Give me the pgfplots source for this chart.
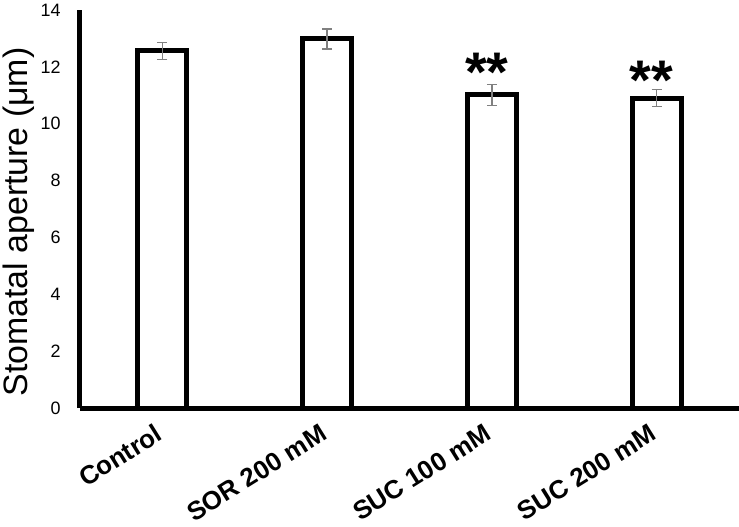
\documentclass[border=0pt]{standalone}
\usepackage{pgfplots}
\pgfplotsset{compat=1.18}
\usepackage{fontspec}
\setmainfont{Liberation Sans}
\begin{document}
\begin{tikzpicture}
\begin{axis}[
  at={(0,0)}, anchor=south west,
  scale only axis,
  width=659bp, height=398bp,
  xmin=-0.5, xmax=3.5,
  ymin=0, ymax=14,
  axis x line=bottom, axis y line=left,
  axis line style={line width=5bp, -},
  xtick={0,1,2,3},
  xticklabels={Control, SOR 200 mM, SUC 100 mM, SUC 200 mM},
  ytick={0,2,...,14},
  major tick length=0pt,
  /pgf/number format/assume math mode=true,
  yticklabel style={font=\fontsize{18}{20}\selectfont, xshift=-16bp},
  xticklabel style={font=\fontsize{26}{28}\selectfont\bfseries, rotate=32, anchor=north east, xshift=-11.5bp, yshift=-5bp},
  ylabel={Stomatal aperture (μm)},
  ylabel style={font=\fontsize{34}{36}\selectfont, yshift=-1bp, xshift=-13bp},
  clip=false,
]
\addplot[ybar, bar width=49bp, fill=white, draw=black, line width=5bp,
  error bars/.cd, y dir=both, y explicit,
  error bar style={color=gray, line width=1.3bp},
  error mark options={rotate=90, mark size=5bp, line width=1.3bp, color=gray}]
  coordinates {
  (0,12.56) +- (0,0.3)
  (1,12.98) +- (0,0.35)
  (2,11.01) +- (0,0.37)
  (3,10.90) +- (0,0.3)
};
\node[font=\fontsize{56}{56}\selectfont\bfseries] at (axis cs:1.97,11.8) {**};
\node[font=\fontsize{56}{56}\selectfont\bfseries] at (axis cs:2.97,11.52) {**};
\end{axis}
\pgfresetboundingbox
\path[use as bounding box] (-80bp,-119bp) rectangle (659bp,408bp);
\end{tikzpicture}
\end{document}
